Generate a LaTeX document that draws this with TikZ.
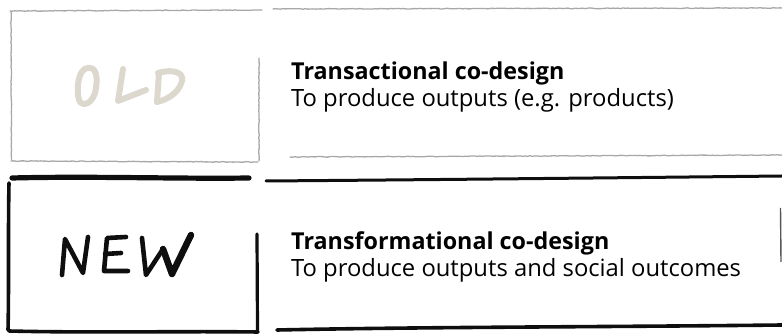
\documentclass[tikz,border=0pt]{standalone}
\usepackage{fontspec}
\setmainfont{Open Sans}
\usetikzlibrary{decorations.pathmorphing}
\definecolor{pencil}{HTML}{A8A8A8}
\definecolor{chalk}{HTML}{DCD8CE}
\definecolor{ink}{HTML}{0E0E0E}
\tikzset{
  pencilline/.style={draw=pencil, line width=1.3pt, line cap=round,
    decorate, decoration={random steps, segment length=2.5pt, amplitude=0.35pt}},
  inkline/.style={draw=ink, line width=3.6pt, line cap=round},
  chalkstroke/.style={draw=chalk, line width=6pt, line cap=round, line join=round},
  inkstroke/.style={draw=ink, line width=4.6pt, line cap=round, line join=round},
  heading/.style={anchor=base west, inner sep=0pt, font=\fontsize{23.3}{28}\selectfont\bfseries},
  subline/.style={anchor=base west, inner sep=0pt, font=\fontsize{23.8}{28}\selectfont}
}
\begin{document}
\begin{tikzpicture}[x=1pt,y=-1pt]
\useasboundingbox (0,0) rectangle (782,336);

% ---- old: pencil frame ----
\draw[pencilline] (10,11) -- (262,10);
\draw[pencilline] (11,12) -- (11.5,160);
\draw[pencilline] (11,161) -- (258,162);
\draw[pencilline] (259,58) -- (259,161);
\draw[pencilline] (273,9) -- (782,8);
\draw[pencilline] (290,157) -- (782,155);

% hand-lettered OLD
\draw[chalkstroke] (88,68) .. controls (78,68) and (76,90) .. (79,100)
   .. controls (82,108) and (94,104) .. (96,88)
   .. controls (98,74) and (95,67) .. (88,68);
\draw[chalkstroke] (123,69) -- (118,101) -- (146,90);
\draw[chalkstroke] (159,73) -- (157,102);
\draw[chalkstroke] (158,73) .. controls (176,68) and (186,74) .. (181,84)
   .. controls (177,94) and (166,100) .. (157,102);

% ---- new: ink frame ----
\draw[inkline, line width=5.2pt] (12,178) .. controls (90,176) and (180,179) .. (249,178);
\draw[inkline] (9,183) .. controls (8,230) and (9,290) .. (8,330);
\draw[inkline] (9,331) .. controls (90,333) and (180,331) .. (258,332);
\draw[inkline, line width=3.2pt] (257,234) -- (257.5,331);
\draw[inkline, line width=3pt] (266,181) .. controls (400,180) and (600,178) .. (782,176);
\draw[inkline] (277,330) .. controls (420,327) and (600,327) .. (782,325);
\draw[draw=ink!70, line width=1.4pt] (780.5,208) -- (781,262);

% hand-lettered NEW
\draw[inkstroke] (62,275) -- (65,239) -- (83,273) -- (88,237);
\draw[inkstroke] (126,237) -- (107,238) -- (104,271) -- (128,271);
\draw[inkstroke] (105,254) -- (121,253);
\draw[inkstroke] (142,238) -- (146,275) -- (163,249);
\draw[inkstroke, line width=6.5pt] (163,249) -- (172,274) -- (191,235);

% ---- descriptions ----
\node[heading] (oldtitle) at (291,80) {Transactional co-design};
\node[subline] (oldtext) at (291,107) {To produce outputs (e.g. products)};
\node[heading] (newtitle) at (291,250) {Transformational co-design};
\node[subline] (newtext) at (291,277) {To produce outputs and social outcomes};
\end{tikzpicture}
\end{document}
